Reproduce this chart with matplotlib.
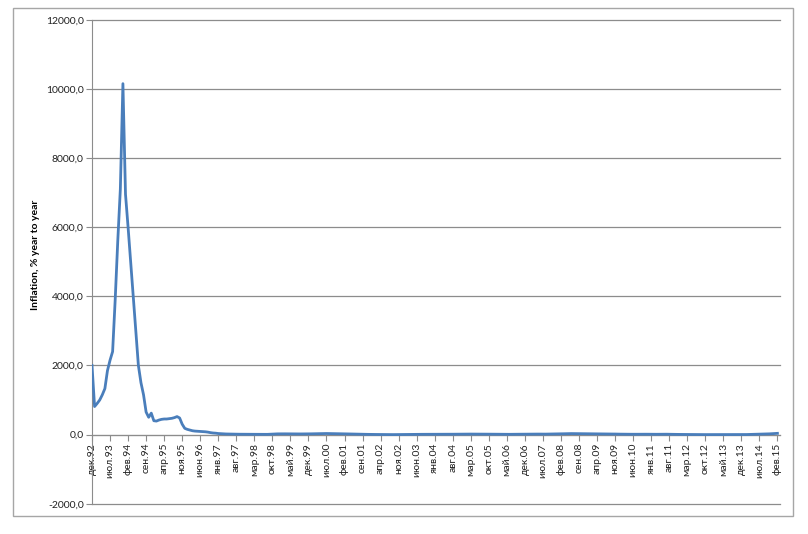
import matplotlib.pyplot as plt
from matplotlib.patches import Rectangle

# Year-to-year inflation, monthly, Dec 1992 .. Feb 2015
inflation = [
    2000,                                                          # 1992 dec
    810, 900, 1000, 1150, 1330, 1850, 2150, 2400, 3900, 5600, 7100, 10150,  # 1993
    6950, 6000, 5000, 4000, 3000, 2000, 1500, 1150, 650, 500, 620, 400,     # 1994
    390, 420, 440, 450, 450, 460, 470, 490, 520, 480, 300, 180,             # 1995
    150, 130, 110, 100, 95, 90, 85, 80, 70, 55, 45, 40,                     # 1996
    30, 25, 20, 17, 15, 14, 12, 11, 10, 10, 10, 10,                         # 1997
    10, 9, 8, 7, 6, 6, 6, 6, 10, 15, 18, 20,                                # 1998
    21, 22, 21, 20, 19, 19, 18, 17, 18, 18, 19, 19,                         # 1999
    21, 23, 25, 27, 28, 29, 30, 29, 28, 27, 26, 26,                         # 2000
    24, 22, 19, 17, 14, 12, 11, 9, 8, 7, 6, 6,                              # 2001
    4, 3, 2, 0, -1, -2, -2, -1, -1, 0, 0, -1,                               # 2002
    0, 1, 2, 4, 5, 6, 6, 7, 7, 7, 8, 8,                                     # 2003
    8, 8, 8, 8, 8, 8, 9, 10, 11, 12, 12, 12,                                # 2004
    13, 14, 14, 14, 14, 14, 14, 13, 13, 12, 11, 10,                         # 2005
    9, 9, 9, 8, 8, 7, 7, 8, 9, 10, 11, 12,                                  # 2006
    12, 12, 12, 13, 14, 13, 13, 13, 14, 15, 16, 17,                         # 2007
    19, 21, 23, 25, 27, 28, 27, 27, 25, 24, 23, 22,                         # 2008
    22, 21, 20, 18, 17, 16, 16, 16, 16, 16, 15, 12,                         # 2009
    12, 12, 11, 10, 9, 8, 7, 9, 10, 10, 10, 9,                              # 2010
    8, 8, 8, 9, 11, 11, 10, 8, 6, 6, 5, 5,                                  # 2011
    4, 4, 3, 2, 1, 0, 0, -1, 0, -1, -1, 0,                                  # 2012
    0, -1, -1, -1, 0, 0, 0, 0, 0, -1, 0, 0,                                 # 2013
    0, 1, 3, 4, 7, 12, 13, 14, 15, 19, 21, 25,                              # 2014
    29, 35,                                                                 # 2015
]

# every 7th month is labelled
tick_labels = [
    "дек.92", "июл.93", "фев.94", "сен.94", "апр.95", "ноя.95", "июн.96",
    "янв.97", "авг.97", "мар.98", "окт.98", "май.99", "дек.99", "июл.00",
    "фев.01", "сен.01", "апр.02", "ноя.02", "июн.03", "янв.04", "авг.04",
    "мар.05", "окт.05", "май.06", "дек.06", "июл.07", "фев.08", "сен.08",
    "апр.09", "ноя.09", "июн.10", "янв.11", "авг.11", "мар.12", "окт.12",
    "май.13", "дек.13", "июл.14", "фев.15",
]
y_ticks = [-2000, 0, 2000, 4000, 6000, 8000, 10000, 12000]

plt.rcParams['font.family'] = ['Lato', 'Liberation Sans', 'DejaVu Sans']

fig = plt.figure(figsize=(8.08, 5.34), dpi=100)
ax = fig.add_axes([92 / 808, 1 - 503.7 / 534, 688 / 808, 484 / 534])

# category axis crosses at zero (set before ticks: it resets them)
for s in ["top", "right"]:
    ax.spines[s].set_visible(False)
ax.spines["bottom"].set_position(("data", 0))
ax.spines["bottom"].set_color("#8c8c8c")
ax.spines["left"].set_color("#8c8c8c")

months = list(range(len(inflation)))
ax.plot(months, inflation, color="#4a7ebb", linewidth=2.0, zorder=3)

ax.set_xlim(0, 267)
ax.set_ylim(-2000, 12000)

ax.set_yticks(y_ticks)
ax.set_yticklabels([f"{v:.1f}".replace(".", ",") for v in y_ticks], fontsize=7.5)
ax.yaxis.grid(True, color="#8c8c8c", linewidth=0.9, clip_on=False)
ax.set_axisbelow(True)

ax.set_xticks(months[::7])
ax.set_xticklabels(tick_labels, rotation=90, fontsize=7.5)

ax.tick_params(axis="both", colors="#8c8c8c", length=4, width=0.8,
               labelcolor="#222222", pad=2)

fig.text(35 / 808, 1 - 255 / 534, "Inflation, % year to year", rotation=90,
         fontsize=7.5, fontweight="bold", ha="center", va="center")

# chart frame
fig.patches.append(Rectangle((13 / 808, 1 - 516 / 534), 780 / 808, 508 / 534,
                             transform=fig.transFigure, fill=False,
                             edgecolor="#a6a6a6", linewidth=1.0))

fig.savefig("out.png", dpi=100)
